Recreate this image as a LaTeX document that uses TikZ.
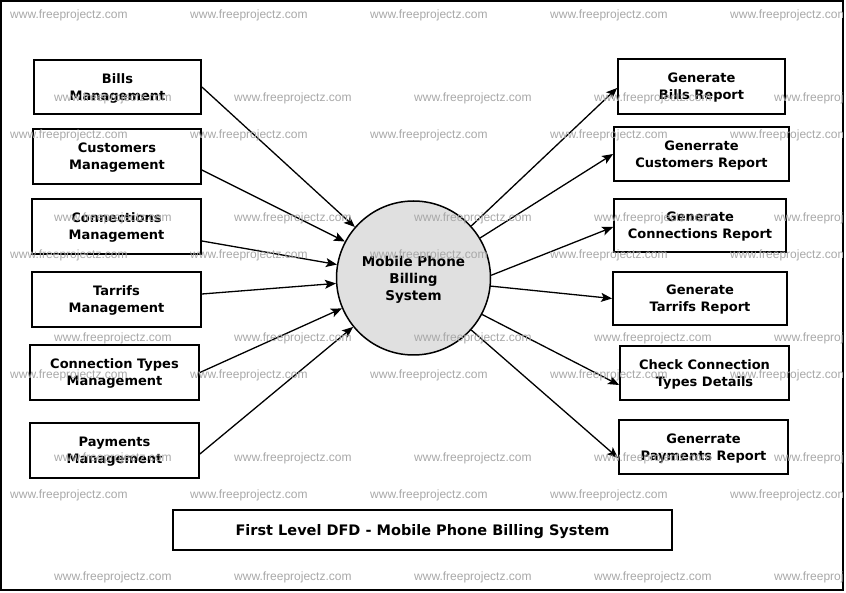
\documentclass[tikz,border=0pt]{standalone}
\usepackage{fontspec}
\setmainfont{DejaVu Sans}
\newfontfamily\wmfont{Liberation Sans}
\usetikzlibrary{arrows.meta,calc}
\definecolor{procfill}{RGB}{224,224,224}
\definecolor{wmgray}{RGB}{168,168,168}
\begin{document}
\begin{tikzpicture}[x=1pt,y=-1pt,
  entity/.style={draw, line width=1.8pt, inner sep=0pt, align=center, text depth=-1pt,
    font=\fontsize{13}{17}\selectfont\bfseries},
  flow/.style={line width=1.3pt, -{Stealth[length=11pt,width=9pt,inset=2.5pt]}},
  proc/.style={circle, draw, line width=1.5pt, fill=procfill, minimum size=154pt,
    inner sep=0pt, align=center, text depth=-1pt, font=\fontsize{13.5}{17}\selectfont\bfseries},
  wm/.style={text=wmgray, font=\wmfont\fontsize{12}{14}\selectfont, anchor=west, inner sep=0pt}
]
\useasboundingbox (0,0) rectangle (846,593);
\draw[line width=2pt] (1,1) rectangle (843,590);

% left entities
\node[entity, minimum width=167pt, minimum height=54pt] (bills) at (117.5,87) {Bills\\Management};
\node[entity, minimum width=168pt, minimum height=55pt] (cust) at (117,156.5) {Customers\\Management};
\node[entity, minimum width=169pt, minimum height=55pt] (conn) at (116.5,226.5) {Connections\\Management};
\node[entity, minimum width=169pt, minimum height=55pt] (tarr) at (116.5,299.5) {Tarrifs\\Management};
\node[entity, minimum width=169pt, minimum height=55pt] (ctype) at (114.5,372.5) {Connection Types\\Management};
\node[entity, minimum width=169pt, minimum height=55pt] (pay) at (114.5,450.5) {Payments\\Management};

% right entities
\node[entity, minimum width=167pt, minimum height=55pt] (gbr) at (701.5,86.5) {Generate\\Bills Report};
\node[entity, minimum width=175pt, minimum height=54pt] (gcr) at (701.5,154) {Generrate\\Customers Report};
\node[entity, minimum width=172pt, minimum height=53pt] (gconr) at (700,225.5) {Generate\\Connections Report};
\node[entity, minimum width=174pt, minimum height=53pt] (gtr) at (700,298.5) {Generate\\Tarrifs Report};
\node[entity, minimum width=169pt, minimum height=54pt] (cct) at (704.5,373) {Check Connection\\Types Details};
\node[entity, minimum width=169pt, minimum height=54pt] (gpr) at (703.5,447) {Generrate\\Payments Report};

% title
\node[entity, minimum width=499pt, minimum height=40pt, font=\fontsize{14.5}{17}\selectfont\bfseries] (title) at (422.5,530) {First Level DFD - Mobile Phone Billing System};

% process
\node[proc] (sys) at (413.5,278) {Mobile Phone\\Billing\\System};

% incoming flows
\draw[flow] (bills.east) -- (sys.139);
\draw[flow] ($(cust.east)+(0,13.5)$) -- (sys.152.6);
\draw[flow] ($(conn.east)+(0,14.5)$) -- (sys.170);
\draw[flow] ($(tarr.east)+(0,-5.5)$) -- (sys.184.3);
\draw[flow] (ctype.east) -- (sys.203.8);
\draw[flow] ($(pay.east)+(0,3.5)$) -- (sys.219.1);

% outgoing flows
\draw[flow] (sys.42.2) -- ($(gbr.west)+(0,1.5)$);
\draw[flow] (sys.31.3) -- (gcr.west);
\draw[flow] (sys.2) -- ($(gconr.west)+(0,1.5)$);
\draw[flow] (sys.-6.5) -- (gtr.west);
\draw[flow] (sys.-28) -- ($(cct.west)+(0,12)$);
\draw[flow] (sys.-42.2) -- ($(gpr.west)+(0,11)$);

% watermarks
\begin{scope}
\clip (2,2) rectangle (842,589);
\foreach \y in {15,135,255,375,495}
  \foreach \x in {10,190,370,550,730}
    \node[wm] (wma-\x-\y) at (\x,\y) {www.freeprojectz.com};
\foreach \y in {98,218,338,458,577}
  \foreach \x in {54,234,414,594,774}
    \node[wm] (wmb-\x-\y) at (\x,\y) {www.freeprojectz.com};
\end{scope}
\end{tikzpicture}
\end{document}
